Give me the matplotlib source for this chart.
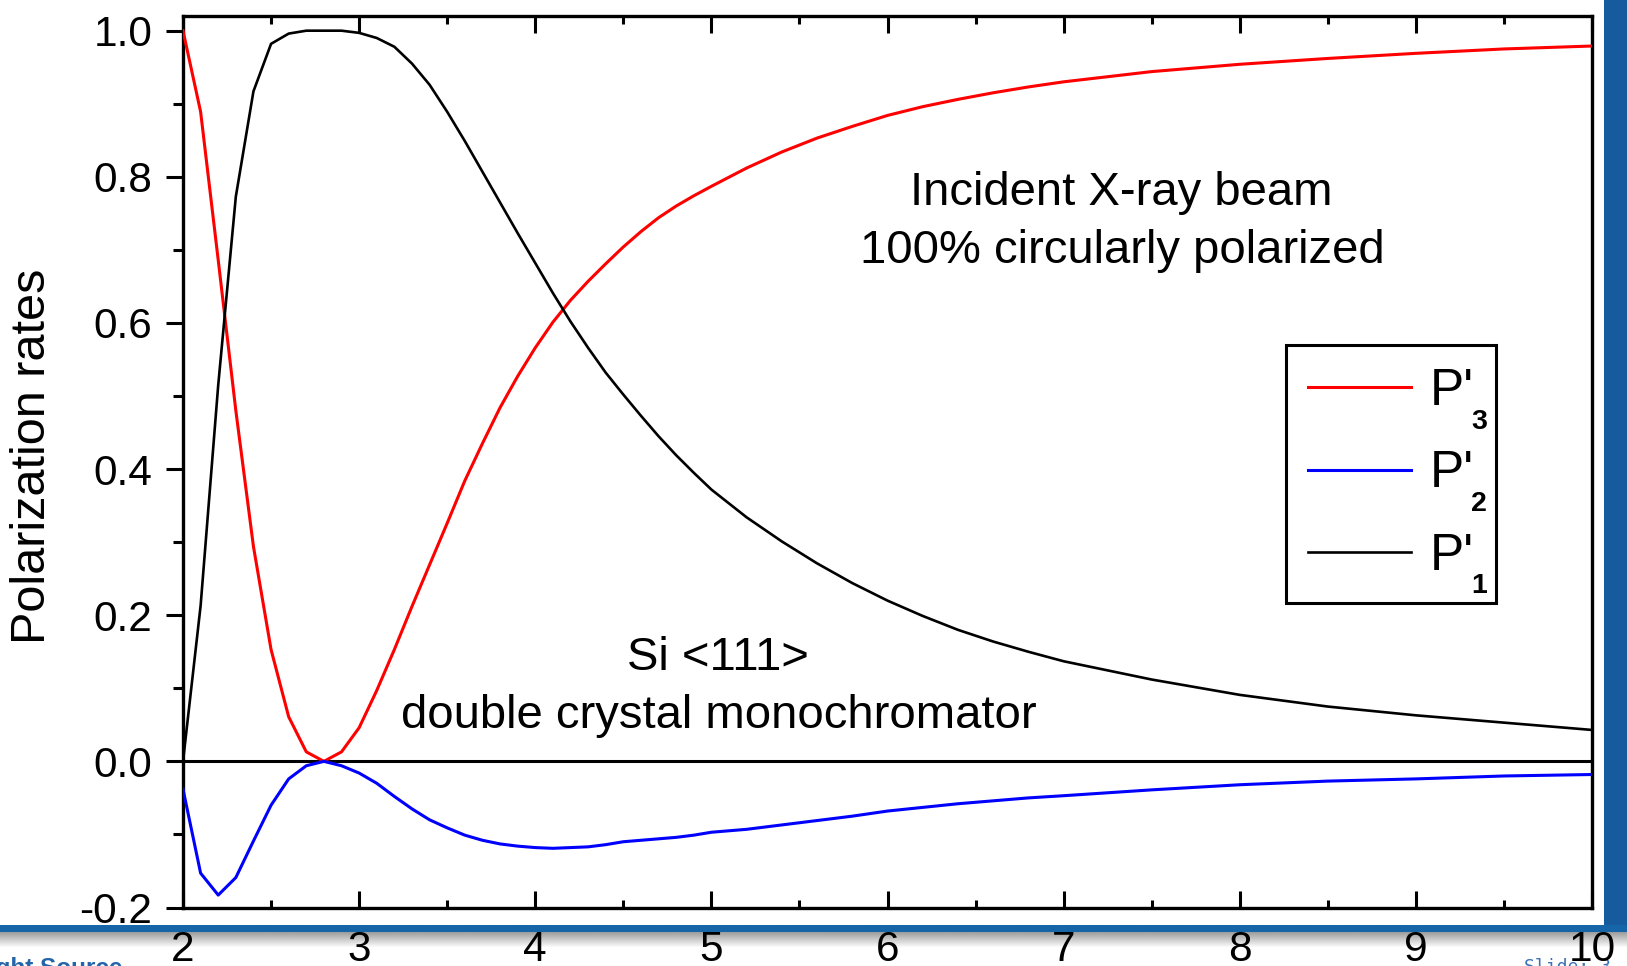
import numpy as np
import matplotlib
matplotlib.use("Agg")
import matplotlib.pyplot as plt
from matplotlib.ticker import MultipleLocator, FuncFormatter
from matplotlib.patches import Rectangle

plt.rcParams["font.family"] = ["Liberation Sans", "DejaVu Sans"]

# Photon energy (keV)
energy = [2.0, 2.1, 2.2, 2.3, 2.4, 2.5, 2.6, 2.7, 2.8, 2.9,
          3.0, 3.1, 3.2, 3.3, 3.4, 3.5, 3.6, 3.7, 3.8, 3.9,
          4.0, 4.1, 4.2, 4.3, 4.4, 4.5, 4.6, 4.7, 4.8, 4.9,
          5.0, 5.2, 5.4, 5.6, 5.8, 6.0, 6.2, 6.4, 6.6, 6.8,
          7.0, 7.5, 8.0, 8.5, 9.0, 9.5, 10.0]

# Stokes parameters of the beam after the Si(111) double crystal monochromator
p3 = [1.000, 0.889, 0.686, 0.480, 0.294, 0.153, 0.061, 0.013, 0.000, 0.013,
      0.046, 0.097, 0.153, 0.212, 0.269, 0.326, 0.384, 0.435, 0.484, 0.527,
      0.566, 0.601, 0.631, 0.657, 0.681, 0.704, 0.725, 0.744, 0.760, 0.774,
      0.787, 0.812, 0.834, 0.853, 0.869, 0.884, 0.896, 0.906, 0.915, 0.923,
      0.930, 0.944, 0.954, 0.962, 0.969, 0.975, 0.979]

p2 = [-0.038, -0.153, -0.183, -0.159, -0.109, -0.060, -0.024, -0.006, 0.000, -0.006,
      -0.016, -0.030, -0.048, -0.065, -0.080, -0.091, -0.101, -0.108, -0.113, -0.116,
      -0.118, -0.119, -0.118, -0.117, -0.114, -0.110, -0.108, -0.106, -0.104, -0.101,
      -0.097, -0.093, -0.087, -0.081, -0.075, -0.068, -0.063, -0.058, -0.054, -0.050,
      -0.047, -0.039, -0.032, -0.027, -0.024, -0.020, -0.018]

p1 = [0.000, 0.213, 0.515, 0.773, 0.917, 0.982, 0.996, 1.000, 1.000, 1.000,
      0.997, 0.990, 0.978, 0.955, 0.926, 0.889, 0.849, 0.807, 0.765, 0.723,
      0.682, 0.641, 0.602, 0.566, 0.532, 0.502, 0.473, 0.445, 0.419, 0.395,
      0.372, 0.334, 0.301, 0.271, 0.244, 0.220, 0.199, 0.180, 0.164, 0.150,
      0.137, 0.112, 0.091, 0.075, 0.063, 0.053, 0.043]

series_labels = ["3", "2", "1"]
x_ticks = [2, 3, 4, 5, 6, 7, 8, 9, 10]

W, H = 1627, 966
fig = plt.figure(figsize=(W / 100, H / 100), dpi=100)

# slide frame: blue bar on the right, blue rule with a soft shadow at the bottom
strip_top, band_h = 925, 7
strip = np.ones((H - strip_top, 1, 3))
blue = np.array([0x15, 0x65, 0xa8]) / 255
strip[:band_h, 0, :] = blue
shade = np.linspace(0.62, 1.0, 16)
strip[band_h:band_h + 16, 0, :] = shade[:, None]
bg = fig.add_axes([0, 0, 1, (H - strip_top) / H], zorder=-3)
bg.imshow(strip, aspect="auto", extent=(0, 1, 0, 1), interpolation="bilinear")
bg.set_axis_off()
fig.patches.append(Rectangle((1604 / W, 1 - strip_top / H), (W - 1604) / W, strip_top / H,
                             transform=fig.transFigure, facecolor="#175b9f",
                             edgecolor="none", zorder=-2))
fig.text(123 / W, 1 - 957 / H, "Light Source", ha="right", va="top", fontsize=17.5,
         fontweight="bold", color="#2464a8", zorder=-1)
fig.text(1524 / W, 1 - 958 / H, "Slide: 3", ha="left", va="top", fontsize=13,
         family="DejaVu Sans Mono", color="#3a72b4", zorder=-1)

ax = fig.add_axes([183 / W, 1 - 907.5 / H, (1592 - 183) / W, (907.5 - 15.7) / H])

l3, = ax.plot(energy, p3, color="#ff0000", lw=2.2, zorder=3)
l2, = ax.plot(energy, p2, color="#0000ff", lw=2.2, zorder=3)
l1, = ax.plot(energy, p1, color="#000000", lw=1.9, zorder=3)
ax.axhline(0, color="black", lw=2.2, zorder=2)

ax.set_xlim(2, 10)
ax.set_ylim(-0.2, 1.0205)
ax.set_xticks(x_ticks)
ax.xaxis.set_minor_locator(MultipleLocator(0.5))
ax.yaxis.set_major_locator(MultipleLocator(0.2))
ax.yaxis.set_minor_locator(MultipleLocator(0.1))
ax.yaxis.set_major_formatter(FuncFormatter(lambda v, _: f"{round(v, 1) + 0.0:.1f}"))

ax.tick_params(axis="x", which="both", direction="in", top=True, bottom=True,
               width=2.2, labelsize=30.5, pad=16)
ax.tick_params(axis="x", which="major", length=12)
ax.tick_params(axis="x", which="minor", length=6)
ax.tick_params(axis="y", which="both", direction="out", left=True, right=False,
               width=2.2, labelsize=30.5, pad=10)
ax.tick_params(axis="y", which="major", length=12)
ax.tick_params(axis="y", which="minor", length=7)
for s in ax.spines.values():
    s.set_linewidth(2.4)

fig.text(33 / W, 1 - 456 / H, "Polarization rates", rotation=90, ha="center",
         va="center", fontsize=35)

txt_kw = dict(ha="center", va="baseline", fontsize=34)
ax.text(7.33, 0.762, "Incident X-ray beam", **txt_kw)
ax.text(7.335, 0.682, "100% circularly polarized", **txt_kw)
ax.text(5.038, 0.125, "Si <111>", **txt_kw)
ax.text(5.044, 0.046, "double crystal monochromator", **txt_kw)

leg = ax.legend([l3, l2, l1], ["P'"] * 3, loc="upper left",
                bbox_to_anchor=((1286 - 183) / 1409, (907.5 - 345) / 891.8),
                borderaxespad=0, frameon=True, fancybox=False, framealpha=1,
                edgecolor="black", fontsize=37, borderpad=0.43, labelspacing=0.65,
                handlelength=2.0, handletextpad=0.37)
leg.get_frame().set_linewidth(2.2)
for t, lab in zip(leg.get_texts(), series_labels):
    ax.annotate(lab, xy=(0, 0), xycoords=t, xytext=(29.5, -9),
                textcoords="offset points", fontsize=20.5, fontweight="bold",
                va="baseline", ha="left", zorder=7, annotation_clip=False)

fig.savefig("out.png", dpi=100)
